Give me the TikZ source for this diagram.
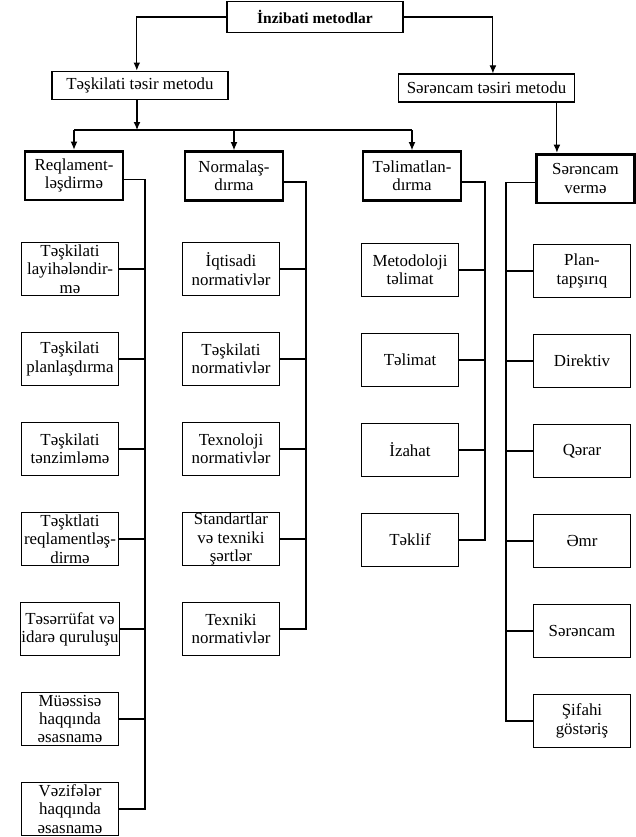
\documentclass[tikz,border=0pt]{standalone}
\usepackage{fontspec}
\setmainfont{Liberation Serif}
\usepackage{tikz}
\usetikzlibrary{positioning, arrows.meta}

\begin{document}
\begin{tikzpicture}[>={Latex[length=2mm, width=1.7mm]}, x=0.025cm, y=-0.025cm, line width=0.8pt,
    box/.style={draw, align=center, inner sep=0.5pt, minimum width=2.42cm,
        minimum height=1.32cm, font=\fontsize{12}{13}\selectfont},
    headbox/.style={box, line width=2pt, minimum width=2.45cm, minimum height=1.22cm}]
    \useasboundingbox (0,0) rectangle (636,837);

    % Các khối trên cùng
    \node[box, minimum width=4.4cm, minimum height=0.77cm,
        font=\fontsize{11}{13}\selectfont\bfseries] (inz) at (315,17) {İnzibati metodlar};
    \node[box, minimum width=4.4cm, minimum height=0.72cm] (tesk) at (140,85.5) {Təşkilati təsir metodu};
    \node[box, minimum width=4.42cm, minimum height=0.7cm] (seren) at (486.5,88) {Sərəncam təsiri metodu};

    % Các khối đậm
    \node[headbox] (reg) at (74,175.5) {Reqlament-\\ləşdirmə};
    \node[headbox] (norm) at (234,176) {Normalaş-\\dırma};
    \node[headbox] (tel) at (412,176) {Təlimatlan-\\dırma};
    \node[headbox] (serv) at (585.5,178.5) {Sərəncam\\vermə};

    % Mũi tên
    \draw[->] (inz.west) -| ([xshift=-0.08cm]tesk.north);
    \draw[->] (inz.east) -| ([xshift=0.16cm]seren.north);
    \coordinate (bus) at (137,130);
    \draw[->] (tesk.south -| bus) -- (bus);
    \draw (reg.north |- bus) -- (tel.north |- bus);
    \foreach \n in {reg, norm, tel} {
        \draw[->] (\n.north |- bus) -- (\n.north);
    }
    \draw[->] ([xshift=1.76cm]seren.south) -- ([xshift=1.76cm]seren.south |- serv.north);

    % Các cột
    \foreach \t [count=\i] in {{Təşkilati\\layihələndir-\\mə}, {Təşkilati\\planlaşdırma},
        {Təşkilati\\tənzimləmə}, {Təşktlati\\reqlamentləş-\\dirmə}, {Təsərrüfat və\\idarə quruluşu},
        {Müəssisə\\haqqında\\əsasnamə}, {Vəzifələr\\haqqında\\əsasnamə}} {
        \node[box] (a\i) at (70,{269+(\i-1)*90}) {\t};
    }
    \foreach \t [count=\i] in {{İqtisadi\\normativlər}, {Təşkilati\\normativlər},
        {Texnoloji\\normativlər}, {Standartlar\\və texniki\\şərtlər}, {Texniki\\normativlər}} {
        \node[box] (b\i) at (231,{269+(\i-1)*90}) {\t};
    }
    \foreach \t [count=\i] in {{Metodoloji\\təlimat}, Təlimat, İzahat, Təklif} {
        \node[box] (c\i) at (410,{270+(\i-1)*90}) {\t};
    }
    \foreach \t [count=\i] in {{Plan-\\tapşırıq}, Direktiv, Qərar, Əmr, Sərəncam, {Şifahi\\göstəriş}} {
        \node[box] (d\i) at (582,{271+(\i-1)*90}) {\t};
    }

    % Các đường nối
    \coordinate (v1) at (145,0);
    \coordinate (v2) at (306,0);
    \coordinate (v3) at (485,0);
    \coordinate (v4) at (506,0);
    \draw ([yshift=-0.1cm]reg.east) -| (v1 |- a7.east) -- (a7.east);
    \draw ([yshift=-0.15cm]norm.east) -| (v2 |- b5.east) -- (b5.east);
    \draw ([yshift=-0.15cm]tel.east) -| (v3 |- c4.east) -- (c4.east);
    \draw ([yshift=-0.1cm]serv.west) -| (v4 |- d6.west) -- (d6.west);
    \foreach \i in {1,...,6} \draw (a\i.east) -- (v1 |- a\i.east);
    \foreach \i in {1,...,4} \draw (b\i.east) -- (v2 |- b\i.east);
    \foreach \i in {1,...,3} \draw (c\i.east) -- (v3 |- c\i.east);
    \foreach \i in {1,...,5} \draw (d\i.west) -- (v4 |- d\i.west);
\end{tikzpicture}
\end{document}
